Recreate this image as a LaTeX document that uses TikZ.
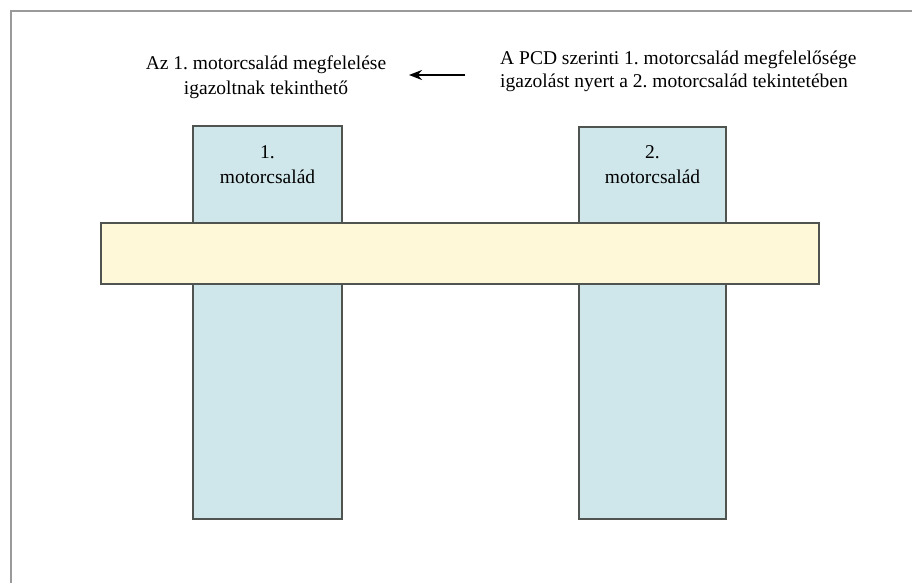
\documentclass[tikz,border=0pt]{standalone}
\usepackage{fontspec}
\setmainfont{Liberation Serif}
\usetikzlibrary{arrows.meta}
\frenchspacing
\definecolor{framegray}{HTML}{9A9A9A}
\definecolor{edgegray}{HTML}{4F5450}
\definecolor{famblue}{HTML}{CFE6EA}
\definecolor{baryellow}{HTML}{FFF8D8}
\tikzset{
  family/.style={draw=edgegray, line width=1.6pt, fill=famblue},
  bar/.style={draw=edgegray, line width=1.6pt, fill=baryellow},
  caption/.style={inner sep=0pt, font=\fontsize{19.5}{25}\selectfont},
  pointer/.style={line width=2.2pt, -{Stealth[length=13pt,width=10pt]}}
}
\begin{document}
\begin{tikzpicture}[x=1pt,y=-1pt]
\useasboundingbox (0,0) rectangle (912,583);
% open outer frame
\draw[framegray, line width=2.2pt] (11,583) -- (11,11) -- (912,11);
% engine families (base anchor sits on the last text line)
\draw[family] (193,126) rectangle (342,519);
\draw[family] (579,127) rectangle (726,519);
\node[caption, align=center, anchor=base] (f1) at (267.5,183) {1.\\motorcsalád};
\node[caption, align=center, anchor=base] (f2) at (652.5,183) {2.\\motorcsalád};
% crossing bar
\draw[bar] (101,223) rectangle (819,284);
% statements
\node[caption, align=center, anchor=base] (left) at (266,95) {Az 1. motorcsalád megfelelése\\igazoltnak tekinthető};
\node[caption, align=left, anchor=base west, font=\fontsize{19.5}{23}\selectfont] (right) at (500,88) {A PCD szerinti 1. motorcsalád megfelelősége\\igazolást nyert a 2. motorcsalád tekintetében};
\coordinate (arrS) at (465,75);
\coordinate (arrE) at (409,75);
\draw[pointer] (arrS) -- (arrE);
\end{tikzpicture}
\end{document}
